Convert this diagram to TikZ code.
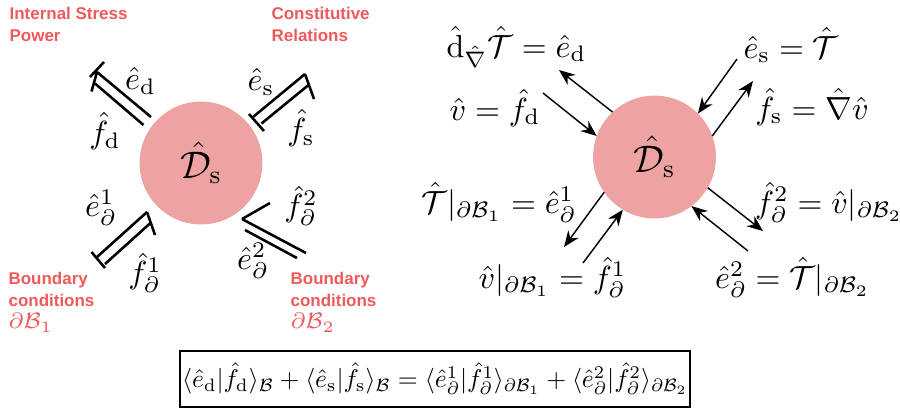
\documentclass[tikz,border=0pt]{standalone}
\usepackage{amsmath,amssymb}
\usepackage{graphicx}
\usepackage{fontspec}
\newfontfamily\lblfont{Liberation Sans}
\usepackage{xcolor}
\usepackage{tikz}
\usetikzlibrary{calc,arrows.meta,positioning}
\definecolor{redl}{HTML}{EE5A5A}
\definecolor{pinkc}{HTML}{EEA3A3}
\tikzset{
  bd/.style={line width=0.8pt,black},
  ar/.style={-{Stealth[length=5pt,width=4pt]},line width=0.45pt,black},
  sys/.style={circle,fill=pinkc,minimum size=38.4pt,inner sep=0pt,outer sep=0pt,font=\large},
  lbl/.style={anchor=north west,inner sep=0pt,align=left,text=redl,font=\lblfont\bfseries\fontsize{5.3}{6.6}\selectfont},
  lblm/.style={inner sep=0pt,text=redl},
  eq/.style={anchor=base,inner sep=0pt}
}

\begin{document}
\begin{tikzpicture}[x=0.3125pt,y=-0.3125pt]
\useasboundingbox (0,0) rectangle (900,410);

% left: Stokes-Dirac structure with bonds
\node[sys] (Dl) at (201,163) {$\hat{\mathcal{D}}_{\mathrm{s}}$};

% internal stress power
\draw[bd] (151,117) -- (97,72) (143.5,125) -- (95,83.5);
\draw[bd] (90,77) -- (104,62) (97,72) -- (91.5,91.5);
% constitutive relations
\draw[bd] (253,117) -- (305,74) (261.5,123.5) -- (308.5,85);
\draw[bd] (249,114) -- (264,131) (305,74) -- (314,99);
% boundary 1
\draw[bd] (97,257) -- (147,212) (105,264) -- (151,222.5);
\draw[bd] (91.5,252) -- (105,268) (147,212) -- (155,235);
% boundary 2
\draw[bd] (242,219) -- (306,253) (245,230) -- (297,258);
\draw[bd] (242,219) -- (270,203);

\node (ed) at (140.5,81) {$\hat e_{\mathrm d}$};
\node (fd) at (105,131) {$\hat f_{\mathrm d}$};
\node (es) at (261,82) {$\hat e_{\mathrm s}$};
\node (fs) at (301,128) {$\hat f_{\mathrm s}$};
\node (eb1) at (101,208) {$\hat e^1_\partial$};
\node (fb1) at (145,273) {$\hat f^1_\partial$};
\node (fb2) at (301,206) {$\hat f^2_\partial$};
\node (eb2) at (253,261) {$\hat e^2_\partial$};

\node[lbl] (isp) at (9,7) {Internal Stress\\Power};
\node[lbl] (cr) at (271,7) {Constitutive\\Relations};
\node[lbl] (bc1) at (8,272) {Boundary\\conditions};
\node[lblm,below=1.8pt of bc1.south west,anchor=north west] (db1) {$\scriptstyle\partial\mathcal{B}_1$};
\node[lbl] (bc2) at (290,272) {Boundary\\conditions};
\node[lblm,below=1.8pt of bc2.south west,anchor=north west] (db2) {$\scriptstyle\partial\mathcal{B}_2$};

% right: port variables
\node[sys] (Dr) at (654.5,157) {$\hat{\mathcal{D}}_{\mathrm{s}}$};

\coordinate (q1) at (559,70);
\coordinate (q2) at (543,93);
\coordinate (q3) at (737,59);
\coordinate (q4) at (753,81);
\coordinate (q5) at (564,247);
\coordinate (q6) at (583,263);
\coordinate (q7) at (763,231);
\coordinate (q8) at (748,251);
\draw[ar] (Dr.133) -- (q1);
\draw[ar] (q2) -- (Dr.160);
\draw[ar] (q3) -- (Dr.45);
\draw[ar] (Dr.20) -- (q4);
\draw[ar] (Dr.215) -- (q5);
\draw[ar] (q6) -- (Dr.239);
\draw[ar] (Dr.330) -- (q7);
\draw[ar] (q8) -- (Dr.307);

\node[eq] (led) at (516.5,57) {$\hat{\mathrm d}_{\hat\nabla}\hat{\mathcal{T}}=\hat e_{\mathrm d}$};
\node[eq] (lfd) at (495,120) {$\hat v=\hat f_{\mathrm d}$};
\node[eq] (les) at (791,58) {$\hat e_{\mathrm s}=\hat{\mathcal{T}}$};
\node[eq] (lfs) at (812,119) {$\hat f_{\mathrm s}=\hat\nabla\hat v$};
\node[eq] (leb1) at (499,213) {$\hat{\mathcal{T}}|_{\partial\mathcal{B}_1}=\hat e^1_\partial$};
\node[eq] (lfb2) at (829,213) {$\hat f^2_\partial=\hat v|_{\partial\mathcal{B}_2}$};
\node[eq] (lfb1) at (552.5,288) {$\hat v|_{\partial\mathcal{B}_1}=\hat f^1_\partial$};
\node[eq] (leb2) at (792.5,288) {$\hat e^2_\partial=\hat{\mathcal{T}}|_{\partial\mathcal{B}_2}$};

% power balance
\node[draw,line width=0.7pt,minimum width=159.4pt,minimum height=17.5pt,inner sep=0pt] (bal) at (435,379)
  {\scalebox{0.8}{$\langle\hat e_{\mathrm d}|\hat f_{\mathrm d}\rangle_{\mathcal{B}}+\langle\hat e_{\mathrm s}|\hat f_{\mathrm s}\rangle_{\mathcal{B}}=\langle\hat e^1_\partial|\hat f^1_\partial\rangle_{\partial\mathcal{B}_1}+\langle\hat e^2_\partial|\hat f^2_\partial\rangle_{\partial\mathcal{B}_2}$}};
\end{tikzpicture}
\end{document}
